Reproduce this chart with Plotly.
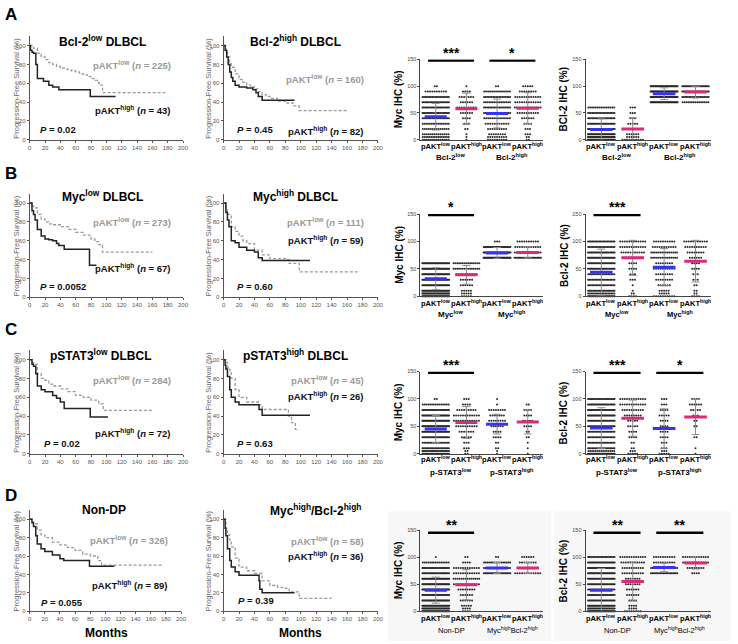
import numpy as np
import plotly.graph_objects as go

W, H = 738, 644
FONT = "Liberation Sans, Arial, sans-serif"

# ---------------- Kaplan-Meier data (months, % PFS) ----------------
A1_LOW_T = [0, 5, 10, 15, 20, 25, 30, 35, 40, 45, 50, 55, 60, 65, 70, 75, 80, 85, 90, 93, 95, 177]
A1_LOW_S = [100, 97, 92, 88, 85, 82, 80, 78, 76, 75, 74, 73, 72, 70, 69, 67, 65, 63, 60, 58, 50, 50]
A1_HIGH_T = [0, 1, 3, 5, 8, 10, 18, 25, 30, 38, 79, 112]
A1_HIGH_S = [100, 95, 93, 92, 80, 65, 62, 58, 56, 53, 46, 46]

A2_LOW_T = [0, 3, 5, 8, 10, 15, 20, 25, 30, 35, 40, 45, 50, 55, 60, 70, 80, 90, 98, 160]
A2_LOW_S = [100, 93, 88, 82, 77, 70, 64, 61, 58, 56, 54, 51, 48, 46, 44, 41, 39, 36, 31, 31]
A2_HIGH_T = [0, 2, 4, 6, 8, 10, 12, 15, 20, 30, 38, 42, 45, 50, 92]
A2_HIGH_S = [100, 95, 88, 80, 72, 66, 62, 58, 56, 55, 53, 50, 46, 42, 42]

B1_LOW_T = [0, 3, 5, 10, 15, 20, 25, 30, 40, 50, 60, 70, 80, 85, 90, 95, 160]
B1_LOW_S = [100, 97, 95, 88, 83, 80, 78, 77, 75, 72, 69, 66, 62, 59, 56, 48, 48]
B1_HIGH_T = [0, 3, 5, 7, 10, 15, 20, 25, 30, 35, 38, 45, 78, 87]
B1_HIGH_S = [100, 92, 88, 82, 72, 65, 62, 61, 60, 57, 55, 51, 34, 34]

B2_LOW_T = [0, 3, 5, 10, 15, 20, 25, 30, 40, 50, 60, 80, 85, 98, 176]
B2_LOW_S = [100, 94, 88, 75, 70, 65, 60, 57, 50, 45, 41, 40, 36, 27, 27]
B2_HIGH_T = [0, 3, 5, 7, 10, 15, 20, 30, 40, 45, 50, 112]
B2_HIGH_S = [100, 90, 82, 75, 60, 58, 53, 50, 48, 42, 39, 39]

C1_LOW_T = [0, 3, 5, 10, 15, 20, 25, 30, 40, 50, 60, 70, 80, 90, 96, 160]
C1_LOW_S = [100, 97, 95, 85, 80, 78, 74, 72, 69, 66, 62, 60, 57, 53, 46, 46]
C1_HIGH_T = [0, 3, 5, 8, 10, 15, 20, 30, 35, 40, 45, 79, 102]
C1_HIGH_S = [100, 95, 93, 85, 72, 68, 66, 62, 59, 55, 48, 39, 39]

C2_LOW_T = [0, 3, 5, 8, 10, 15, 20, 30, 45, 50, 82, 84, 88, 93, 96]
C2_LOW_S = [100, 97, 92, 86, 80, 68, 60, 55, 52, 47, 47, 40, 33, 26, 26]
C2_HIGH_T = [0, 2, 3, 5, 8, 10, 15, 20, 45, 46, 50, 112]
C2_HIGH_S = [100, 94, 90, 82, 68, 60, 55, 52, 52, 47, 41, 41]

D1_LOW_T = [0, 3, 5, 10, 15, 20, 30, 40, 50, 60, 70, 80, 90, 95, 176]
D1_LOW_S = [100, 97, 95, 88, 83, 80, 75, 72, 69, 66, 62, 60, 55, 50, 49]
D1_HIGH_T = [0, 3, 5, 8, 10, 15, 20, 30, 40, 45, 79, 112]
D1_HIGH_S = [100, 96, 92, 82, 73, 68, 65, 61, 57, 55, 49, 49]

D2_LOW_T = [0, 3, 5, 8, 10, 15, 20, 30, 40, 50, 60, 70, 80, 85, 98, 140]
D2_LOW_S = [100, 90, 83, 75, 70, 58, 48, 44, 41, 33, 28, 26, 25, 21, 14, 14]
D2_HIGH_T = [0, 2, 3, 5, 8, 10, 15, 20, 45, 46, 47, 50, 92]
D2_HIGH_S = [100, 90, 82, 68, 55, 48, 43, 39, 39, 33, 24, 20, 20]

KM_TITLES = ["Bcl-2<sup>low</sup> DLBCL", "Bcl-2<sup>high</sup> DLBCL",
             "Myc<sup>low</sup> DLBCL", "Myc<sup>high</sup> DLBCL",
             "pSTAT3<sup>low</sup> DLBCL", "pSTAT3<sup>high</sup> DLBCL",
             "Non-DP", "Myc<sup>high</sup>/Bcl-2<sup>high</sup>"]
N_LOW = [225, 160, 273, 111, 284, 45, 326, 58]
N_HIGH = [43, 82, 67, 59, 72, 26, 89, 36]
P_VALUES = ["0.02", "0.45", "0.0052", "0.60", "0.02", "0.63", "0.055", "0.39"]
KM_TICKS = list(range(0, 201, 20))
KM_YTICKS = [0, 20, 40, 60, 80, 100]

# ---------------- IHC dot-plot data ----------------
LEVELS = [0, 5, 10, 20, 30, 40, 50, 60, 70, 80, 90, 100]
MYC_COUNTS = [
    [[14, 16, 14, 14, 16, 20, 24, 22, 22, 20, 10, 2],
     [1, 1, 1, 2, 3, 4, 6, 9, 6, 7, 4, 1],
     [9, 9, 8, 9, 11, 14, 18, 18, 16, 18, 14, 2],
     [2, 2, 3, 3, 4, 6, 10, 14, 12, 12, 8, 5]],
    [[40, 35, 35, 30, 30, 35, 35, 33, 0, 0, 0, 0],
     [5, 5, 5, 6, 6, 10, 15, 15, 0, 0, 0, 0],
     [0, 0, 0, 0, 0, 0, 0, 0, 45, 35, 28, 3],
     [0, 0, 0, 0, 0, 0, 0, 0, 22, 15, 12, 10]],
    [[22, 25, 22, 18, 25, 30, 35, 35, 30, 25, 15, 2],
     [2, 2, 3, 3, 5, 7, 10, 12, 12, 9, 4, 3],
     [1, 1, 2, 2, 4, 4, 6, 8, 7, 8, 1, 1],
     [1, 0, 1, 1, 2, 2, 4, 5, 4, 4, 2, 0]],
    [[38, 32, 32, 30, 28, 32, 35, 33, 25, 25, 15, 1],
     [4, 4, 5, 6, 6, 8, 12, 14, 12, 12, 4, 2],
     [0, 0, 0, 0, 0, 0, 0, 0, 22, 18, 16, 2],
     [0, 0, 0, 0, 0, 0, 0, 0, 12, 10, 8, 6]],
]
BCL_COUNTS = [
    [[45, 35, 35, 30, 25, 20, 20, 15, 0, 0, 0, 0],
     [10, 6, 6, 6, 5, 3, 3, 3, 0, 0, 0, 0],
     [0, 0, 0, 0, 0, 0, 0, 0, 40, 40, 40, 38],
     [0, 0, 0, 0, 0, 0, 0, 0, 15, 20, 22, 25]],
    [[30, 18, 22, 20, 20, 18, 25, 25, 30, 25, 20, 20],
     [4, 2, 1, 1, 3, 3, 4, 4, 10, 11, 12, 12],
     [10, 5, 5, 6, 8, 8, 10, 8, 15, 15, 11, 10],
     [4, 2, 2, 2, 3, 3, 4, 4, 6, 8, 10, 11]],
    [[30, 15, 20, 20, 20, 20, 25, 25, 30, 30, 25, 24],
     [5, 3, 2, 2, 4, 4, 5, 5, 8, 10, 12, 12],
     [5, 3, 3, 3, 4, 4, 4, 4, 5, 4, 3, 3],
     [1, 0, 1, 0, 2, 0, 2, 2, 3, 5, 6, 4]],
    [[45, 25, 30, 25, 25, 20, 25, 25, 30, 30, 25, 21],
     [8, 4, 4, 4, 6, 6, 7, 7, 10, 10, 11, 12],
     [0, 0, 0, 0, 0, 0, 0, 0, 20, 18, 10, 10],
     [0, 0, 0, 0, 0, 0, 0, 0, 4, 8, 12, 12]],
]
MYC_MEAN = [[43, 58, 49, 59], [32, 39, 79, 80], [45, 57, 54, 58], [39, 49, 80, 80]]
MYC_SD = [[25, 29, 27, 29], [20, 17, 10, 10], [25, 29, 18, 22], [24, 28, 10, 10]]
BCL_MEAN = [[19, 20, 86, 89], [44, 70, 53, 64], [47, 65, 46, 67], [39, 55, 81, 89]]
BCL_SD = [[20, 21, 11, 11], [42, 32, 34, 38], [37, 33, 36, 32], [40, 36, 8, 11]]
MYC_SIG = [[(0, 1, "***"), (2, 3, "*")], [(0, 1, "*")], [(0, 1, "***")], [(0, 1, "**")]]
BCL_SIG = [[], [(0, 1, "***")], [(0, 1, "***"), (2, 3, "*")], [(0, 1, "**"), (2, 3, "**")]]
CAT_LABELS = ["pAKT<sup>low</sup>", "pAKT<sup>high</sup>", "pAKT<sup>low</sup>", "pAKT<sup>high</sup>"]
GROUP_LABELS = [["Bcl-2<sup>low</sup>", "Bcl-2<sup>high</sup>"],
                ["Myc<sup>low</sup>", "Myc<sup>high</sup>"],
                ["p-STAT3<sup>low</sup>", "p-STAT3<sup>high</sup>"],
                ["Non-DP", "Myc<sup>high</sup>Bcl-2<sup>high</sup>"]]
BCL_TITLES = ["BCl-2 IHC (%)", "Bcl-2 IHC (%)", "Bcl-2 IHC (%)", "Bcl-2 IHC (%)"]

# ---------------- layout geometry (pixels) ----------------
KM_ROWS = [(33.5, 138), (192.5, 297), (350.5, 455), (511.7, 614)]
KM_COLS = [(28, 183), (224, 380)]
SC_ROWS = [(57, 138), (213, 296), (372, 455), (532, 614)]
MYC_X = (423, 547)
BCL_X = (590, 717)
SIG_Y = [148, 148, 148, 145]
KM_TXT = [
    (102, 38, 173, 63, 173, 108, 36, 128),
    (297, 38, 368, 77, 368, 129, 236, 128),
    (102, 195, 173, 221, 173, 267, 36, 286),
    (297, 195, 368, 221, 368, 239, 236, 286),
    (100, 355, 173, 381, 173, 434, 40, 445),
    (297, 355, 368, 381, 368, 397, 236, 445),
    (103, 512, 170, 542, 170, 587, 37, 605),
    (317, 512, 368, 543, 368, 558, 237, 603),
]
CAT_Y = [144, 303, 460, 621]
GRP_Y = [155, 314, 473, 633]


def fx(p):
    return p / W


def fy(p):
    return 1 - p / H


fig = go.Figure()
axes = {}
ann = []
shapes = []


def add_axes(k, xpx, ypx, xcfg, ycfg):
    xs = 'xaxis' if k == 1 else f'xaxis{k}'
    ys = 'yaxis' if k == 1 else f'yaxis{k}'
    xr = 'x' if k == 1 else f'x{k}'
    yr = 'y' if k == 1 else f'y{k}'
    axes[xs] = dict(domain=[fx(xpx[0]), fx(xpx[1])], anchor=yr, **xcfg)
    axes[ys] = dict(domain=[fy(ypx[1]), fy(ypx[0])], anchor=xr, **ycfg)
    return xr, yr


def text(x, y, t, size, color='#000', xanchor='center', angle=0, yanchor='middle'):
    ann.append(dict(x=fx(x), y=fy(y), xref='paper', yref='paper', text=t, showarrow=False,
                    xanchor=xanchor, yanchor=yanchor, textangle=angle,
                    font=dict(size=size, color=color, family=FONT)))


base_ax = dict(showline=True, linecolor='#555', linewidth=1, showgrid=False, zeroline=False,
               fixedrange=True, tickfont=dict(size=6, color='#555', family=FONT))

KM_DATA = [
    (A1_LOW_T, A1_LOW_S, A1_HIGH_T, A1_HIGH_S), (A2_LOW_T, A2_LOW_S, A2_HIGH_T, A2_HIGH_S),
    (B1_LOW_T, B1_LOW_S, B1_HIGH_T, B1_HIGH_S), (B2_LOW_T, B2_LOW_S, B2_HIGH_T, B2_HIGH_S),
    (C1_LOW_T, C1_LOW_S, C1_HIGH_T, C1_HIGH_S), (C2_LOW_T, C2_LOW_S, C2_HIGH_T, C2_HIGH_S),
    (D1_LOW_T, D1_LOW_S, D1_HIGH_T, D1_HIGH_S), (D2_LOW_T, D2_LOW_S, D2_HIGH_T, D2_HIGH_S),
]

k = 0
for r in range(4):
    # light backdrop behind row D dot plots
    if r == 3:
        for (x0, x1) in [(390, 555), (558, 737)]:
            shapes.append(dict(type='rect', xref='paper', yref='paper', x0=fx(x0), x1=fx(x1),
                               y0=fy(644), y1=fy(513), fillcolor='#f7f7f7', line=dict(width=0),
                               layer='below'))
    for c in range(2):
        k += 1
        i = r * 2 + c
        xcols = KM_COLS[c] if r < 3 else (KM_COLS[c][0], KM_COLS[c][1] - (2 if c == 0 else 0))
        xr, yr = add_axes(k, xcols, KM_ROWS[r],
                          dict(base_ax, range=[0, 200], tickvals=KM_TICKS, ticks='outside',
                               ticklen=2, tickcolor='#555'),
                          dict(base_ax, range=[0, 110], tickvals=KM_YTICKS, ticks='outside',
                               ticklen=2, tickcolor='#555'))
        lt, ls, ht, hs = KM_DATA[i]
        fig.add_trace(go.Scatter(x=lt, y=ls, mode='lines', line_shape='hv', xaxis=xr, yaxis=yr,
                                 line=dict(color='#9a9a9a', width=1.3, dash='3px,2px'),
                                 showlegend=False, hoverinfo='skip'))
        fig.add_trace(go.Scatter(x=ht, y=hs, mode='lines', line_shape='hv', xaxis=xr, yaxis=yr,
                                 line=dict(color='#222', width=1.5),
                                 showlegend=False, hoverinfo='skip'))
        tx, ty, gx, gy, bx, by, px, py = KM_TXT[i]
        text(tx, ty, f"<b>{KM_TITLES[i]}</b>", 12)
        text(gx, gy, f"<b>pAKT<sup>low</sup> (<i>n</i> = {N_LOW[i]})</b>", 9.5, '#9a9a9a', 'right')
        text(bx, by, f"<b>pAKT<sup>high</sup> (<i>n</i> = {N_HIGH[i]})</b>", 9.5, '#111', 'right')
        text(px, py, f"<b><i>P</i> = {P_VALUES[i]}</b>", 9.5, '#111', 'left')
        ycen = (KM_ROWS[r][0] + KM_ROWS[r][1]) / 2
        text(15 if c == 0 else 209, ycen, "Progression-Free Survival (%)", 7.5, '#666', angle=-90)

    # dot plots
    for j, (xpx, counts, means, sds, sigs, ytitle, tx) in enumerate([
            (MYC_X, MYC_COUNTS[r], MYC_MEAN[r], MYC_SD[r], MYC_SIG[r], "Myc IHC (%)", 401),
            (BCL_X, BCL_COUNTS[r], BCL_MEAN[r], BCL_SD[r], BCL_SIG[r], BCL_TITLES[r], 568)]):
        k += 1
        xr, yr = add_axes(k, xpx, SC_ROWS[r],
                          dict(base_ax, range=[-0.5, 3.5], showticklabels=False, ticks='',
                               linecolor='#444'),
                          dict(base_ax, range=[0, 150], tickvals=[0, 50, 100, 150], ticks='outside',
                               ticklen=2, tickcolor='#444', linecolor='#444',
                               tickfont=dict(size=5.5, color='#444', family=FONT)))
        ppu = (xpx[1] - xpx[0]) / 4.0
        xs, ys = [], []
        for ci, cnts in enumerate(counts):
            for lv, n in zip(LEVELS, cnts):
                if n == 0:
                    continue
                step = min(2.3, 28.0 / n) / ppu
                offs = (np.arange(n) - (n - 1) / 2) * step
                xs.extend((ci + offs).tolist())
                ys.extend([lv] * n)
        fig.add_trace(go.Scatter(x=xs, y=ys, mode='markers', xaxis=xr, yaxis=yr, cliponaxis=False,
                                 marker=dict(size=2.0, color='#2a2a2a', line=dict(width=0)),
                                 showlegend=False, hoverinfo='skip'))
        fig.add_trace(go.Scatter(x=[0, 1, 2, 3], y=means, mode='markers', xaxis=xr, yaxis=yr,
                                 marker=dict(size=1, color='rgba(0,0,0,0)'),
                                 error_y=dict(type='data', array=sds, color='#8c8c8c',
                                              thickness=1, width=4),
                                 showlegend=False, hoverinfo='skip'))
        for col, idxs in [('#3434f2', [0, 2]), ('#e0287a', [1, 3])]:
            mx, my = [], []
            for ci in idxs:
                mx += [ci - 0.36, ci + 0.36, None]
                my += [means[ci], means[ci], None]
            fig.add_trace(go.Scatter(x=mx, y=my, mode='lines', xaxis=xr, yaxis=yr,
                                     line=dict(color=col, width=3), showlegend=False,
                                     hoverinfo='skip'))
        for (a, b, stars) in sigs:
            shapes.append(dict(type='line', xref=xr, yref=yr, x0=a - 0.25, x1=b + 0.25,
                               y0=SIG_Y[r], y1=SIG_Y[r], line=dict(color='#000', width=2.5)))
            xm = xpx[0] + ((a + b) / 2 + 0.5) * ppu
            bar_px = SC_ROWS[r][0] + (150 - SIG_Y[r]) * (SC_ROWS[r][1] - SC_ROWS[r][0]) / 150
            text(xm, bar_px - 8, f"<b>{stars}</b>", 14)
        ycen = (SC_ROWS[r][0] + SC_ROWS[r][1]) / 2
        text(tx, ycen, f"<b>{ytitle}</b>", 10, angle=-90)
        for ci in range(4):
            cx = xpx[0] + (ci + 0.5) * ppu
            text(cx, CAT_Y[r], f"<b>{CAT_LABELS[ci]}</b>", 7.5)
        for g in range(2):
            gx = xpx[0] + (2 * g + 1) * ppu
            lbl = GROUP_LABELS[r][g]
            text(gx, GRP_Y[r], lbl if r == 3 else f"<b>{lbl}</b>",
                 7.5 if (r == 3 or (r == 1 and j == 1)) else 8)

# panel letters
for letter, y in zip("ABCD", [12, 172, 330, 497]):
    text(1, y, f"<b>{letter}</b>", 17, xanchor='left')
for x in [106, 302]:
    text(x, 636, "<b>Months</b>", 12)

fig.update_layout(width=W, height=H, margin=dict(l=0, r=0, t=0, b=0),
                  paper_bgcolor='white', plot_bgcolor='rgba(0,0,0,0)',
                  font=dict(family=FONT), annotations=ann, shapes=shapes, **axes)
fig.write_html("out.html", config={"displayModeBar": False},
               post_script="document.body.style.margin='0';document.body.style.padding='0';")
